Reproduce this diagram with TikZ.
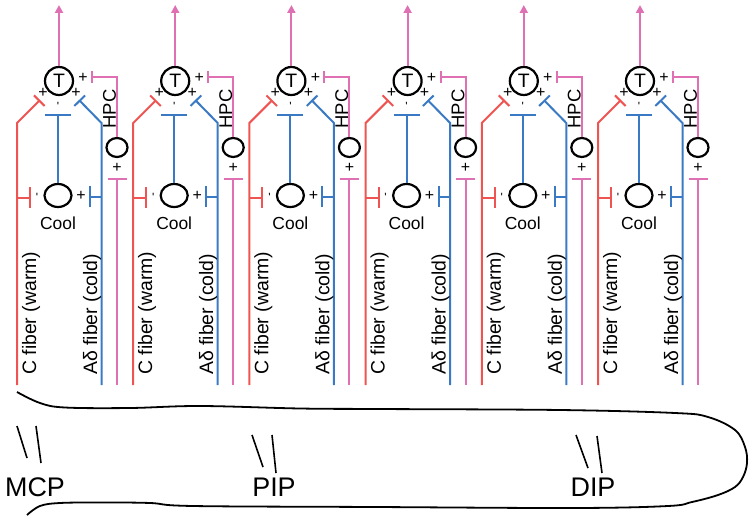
\documentclass[tikz,border=0pt]{standalone}
\usepackage{fontspec}
\setmainfont{Liberation Sans}
\usetikzlibrary{arrows.meta,shapes.geometric}
\definecolor{warmred}{RGB}{238,84,82}
\definecolor{coldblue}{RGB}{58,122,196}
\definecolor{hpcpink}{RGB}{224,112,180}

\begin{document}
\begin{tikzpicture}[x=1bp,y=-1bp,
  fiber/.style={line width=2bp},
  warm/.style={fiber,draw=warmred},
  cold/.style={fiber,draw=coldblue},
  hpcl/.style={fiber,draw=hpcpink},
  inhib/.style={-{Bar[width=#1]}},
  excite/.style={-{Triangle[length=8bp,width=8bp]}},
  neuron/.style={draw=black,line width=2.2bp,inner sep=0pt},
  sign/.style={font=\fontsize{16}{16}\selectfont,inner sep=0pt},
  tick/.style={font=\fontsize{12}{12}\selectfont,inner sep=0pt},
  label/.style={inner sep=0pt},
  fiberlabel/.style={label,rotate=90,anchor=base west,font=\fontsize{19.5}{19.5}\selectfont},
  joint/.style={draw=black,line width=1.6bp},
  bone/.style={label,font=\fontsize{27}{27}\selectfont}
]
\useasboundingbox (0,0) rectangle (750,519);

\foreach \i in {1,...,6}{
  \pgfmathsetmacro{\ux}{17+116.2*(\i-1)}
  \pgfmathsetmacro{\cx}{\ux+42}
  % neurons
  \node[neuron,circle,minimum size=28bp,font=\fontsize{19.5}{19.5}\selectfont] (T\i) at (\cx,81) {T};
  \node[neuron,ellipse,minimum width=27bp,minimum height=23bp] (cool\i) at (\ux+41,195.5) {};
  \node[neuron,ellipse,minimum width=21bp,minimum height=19bp] (hpc\i) at (\ux+100,147.5) {};
  % fibre way points
  \coordinate (wb\i) at (\ux,385);
  \coordinate (wk\i) at (\ux,123);
  \coordinate (wt\i) at (\ux+23,100);
  \coordinate (wc\i) at (\ux,198);
  \coordinate (wcb\i) at (\ux+14,198);
  \coordinate (cb\i) at (\ux+84.5,385);
  \coordinate (ck\i) at (\ux+84.5,123);
  \coordinate (ct\i) at (\ux+62,100);
  \coordinate (cc\i) at (\ux+84.5,197);
  \coordinate (ccb\i) at (\ux+72,197);
  \coordinate (cin\i) at (\ux+41,114);
  \coordinate (pb\i) at (\ux+100,385);
  \coordinate (pin\i) at (\ux+100,178);
  \coordinate (pt\i) at (\ux+74,77);
  \coordinate (out\i) at (\cx,5);
  % C fibre (warm)
  \draw[warm,inhib=15bp] (wb\i) -- (wk\i) -- (wt\i);
  \draw[warm,inhib=21bp] (wc\i) -- (wcb\i);
  % A-delta fibre (cold)
  \draw[cold,inhib=15bp] (cb\i) -- (ck\i) -- (ct\i);
  \draw[cold,inhib=21bp] (cc\i) -- (ccb\i);
  \draw[cold,inhib=26bp] (cool\i.north) -- (cin\i);
  % HPC pathway
  \draw[hpcl,inhib=12bp] (hpc\i.north) |- (pt\i);
  \draw[hpcl,inhib=19bp] (pb\i) -- (pin\i);
  \draw[hpcl,excite] (T\i.north) -- (out\i);
  % signs
  \node[sign] at (\ux+26,93) {+};
  \node[sign] at (\ux+59,93) {+};
  \node[sign] at (\ux+66,78) {+};
  \node[sign] at (\ux+100,168) {+};
  \node[sign] at (\ux+64,196) {+};
  \node[tick] at (\ux+41,106) {\textquotesingle};
  \node[tick] at (\ux+20,197) {\textquotesingle};
  % labels
  \node[label,font=\fontsize{17.5}{17.5}\selectfont] at (\ux+41,223.5) {Cool};
  \node[label,rotate=90,font=\fontsize{18.5}{18.5}\selectfont] at (\ux+92.5,109) {HPC};
  \node[fiberlabel] at (\ux+19,375) {C fiber (warm)};
  \node[fiberlabel] at (\ux+80,375) {Aδ fiber (cold)};
}

% finger outline
\draw[line width=1.8bp] plot[smooth,tension=0.6] coordinates {
  (17,392) (40,403) (65,407.5) (130,408) (200,406) (300,408.5) (375,409)
  (560,410) (675,413) (708,417) (735,430) (745,447) (747,463) (743,477)
  (735,487) (718,495) (692,502) (668,506) (575,508) (375,507) (193,506)
  (150,503) (100,502.5) (60,503) (40,506) (27,515)};

% joints
\draw[joint] (17,426) -- (27,458);
\draw[joint] (36,426) -- (41,463);
\draw[joint] (252,435) -- (263,467);
\draw[joint] (272,435) -- (276,473);
\draw[joint] (576,435) -- (588,468);
\draw[joint] (597,436) -- (602,473);
\node[bone] (mcp) at (35,487) {MCP};
\node[bone] (pip) at (274,487) {PIP};
\node[bone] (dip) at (593,487) {DIP};
\end{tikzpicture}
\end{document}
